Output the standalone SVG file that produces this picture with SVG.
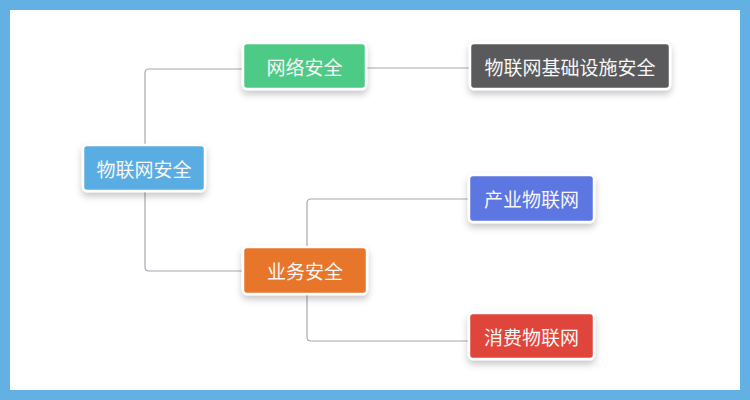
<svg xmlns="http://www.w3.org/2000/svg" width="750" height="400" viewBox="0 0 750 400">
  <style>
    .box { stroke: #ffffff; stroke-width: 2.5; filter: url(#sh); }
    .lbl { font-family: "Noto Sans CJK SC", "Noto Sans", sans-serif; font-size: 19px; fill: #f7f7f7; text-anchor: middle; dominant-baseline: central; }
    .conn { fill: none; stroke: #a8a8b0; stroke-width: 1.2; }
  </style>
  <defs>
    <filter id="sh" x="-20%" y="-30%" width="140%" height="180%">
      <feDropShadow dx="0" dy="4" stdDeviation="3.5" flood-color="#000" flood-opacity="0.22"/>
    </filter>
  </defs>
  <rect x="0" y="0" width="750" height="400" fill="#62b0e4"/>
  <rect x="10" y="10" width="730" height="380" fill="#ffffff"/>

  <g id="connectors">
    <path class="conn" d="M145,145 V73 Q145,69 149,69 H243"/>
    <path class="conn" d="M366,68 H470"/>
    <path class="conn" d="M145,191 V267 Q145,271 149,271 H243"/>
    <path class="conn" d="M307,247 V203 Q307,199 311,199 H469"/>
    <path class="conn" d="M307,294 V337 Q307,341 311,341 H469"/>
  </g>

  <g id="n-root">
    <rect class="box" x="83" y="145" width="122" height="46" rx="4" fill="#5aade2"/>
    <text class="lbl" x="144" y="168">物联网安全</text>
  </g>
  <g id="n-net">
    <rect class="box" x="243" y="43" width="123" height="46" rx="4" fill="#4ecb86"/>
    <text class="lbl" x="304.5" y="66">网络安全</text>
  </g>
  <g id="n-infra">
    <rect class="box" x="470" y="43" width="200" height="46" rx="4" fill="#5a5a5c"/>
    <text class="lbl" x="570" y="66">物联网基础设施安全</text>
  </g>
  <g id="n-biz">
    <rect class="box" x="243" y="247" width="124" height="47" rx="4" fill="#e8762a"/>
    <text class="lbl" x="305" y="270.5">业务安全</text>
  </g>
  <g id="n-ind">
    <rect class="box" x="469" y="175" width="125" height="47" rx="4" fill="#5b76e2"/>
    <text class="lbl" x="531.5" y="198.5">产业物联网</text>
  </g>
  <g id="n-con">
    <rect class="box" x="469" y="313" width="125" height="46" rx="4" fill="#e0453a"/>
    <text class="lbl" x="531.5" y="336">消费物联网</text>
  </g>
</svg>
